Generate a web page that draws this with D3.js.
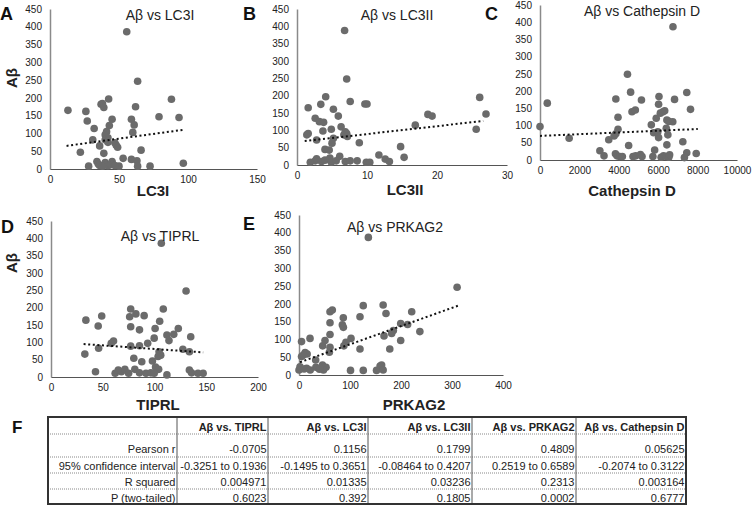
<!DOCTYPE html>
<html>
<head>
<meta charset="utf-8">
<script src="https://cdn.jsdelivr.net/npm/d3@7"></script>
<style>
  body { margin: 0; background: #fff; }
  svg { font-family: Arial, "Liberation Sans", sans-serif; }
</style>
</head>
<body>
<svg id="chart" width="753" height="506"></svg>
<script>
// Data: [x, Aβ]
const lc3i = [[63.5,247],[13,165],[26,162],[37,182],[38,184],[39,173],[42.5,197],[27,135],[32,114],[45,140],[43,122],[41,105],[40,96],[42,88],[40,82],[42,75],[31,82],[36,65],[22,47],[48,67],[49,61],[47,74],[39,44],[59,140],[61,124],[60,103],[62,175],[66,53],[79,147],[88,196],[93.5,145],[96.6,16],[55.6,386],[28,8],[34,21],[35,14],[36,10],[40,18],[41,12],[42,9],[45,21],[50,8],[53,30],[59,27],[63,23],[63.5,8],[72.5,8],[38,8],[44,12],[47,10]];
const lc3ii = [[6.8,388],[7.1,248],[4.1,197],[1.6,165],[3.4,175],[7.6,183],[9.7,176],[10,176],[5.2,161],[2.6,135],[3.2,125],[3.8,123],[5.9,141],[6.3,110],[3.7,98],[4.9,103],[6.9,96],[7.1,91],[6.7,87],[7.2,82],[1.4,87],[1.6,91],[2.8,72],[5.2,77],[5,63],[4,45],[4.6,43],[8.9,64],[16.9,115],[18.7,146],[19.3,141],[26.1,195],[27,147],[25.6,103],[14.8,53],[15.3,22],[11.7,29],[12.6,17],[13.2,10],[1.9,8],[2.6,12],[2.8,18],[3.5,10],[4,14],[4.7,20],[4.9,8],[5.6,12],[6.1,25],[6.9,10],[7.6,12],[8.6,12],[9.9,8],[10.4,8]];
const cathD = [[6750,387],[0,97],[370,165],[1480,63],[4440,249],[4600,197],[3850,177],[4670,140],[4840,145],[5150,174],[3960,124],[3960,89],[3850,76],[3760,70],[3490,59],[4500,42],[3040,27],[3250,12],[3830,18],[3910,12],[4050,10],[4180,10],[4720,10],[4860,12],[5100,16],[5180,10],[6040,184],[6020,162],[6110,136],[6240,140],[6330,143],[5900,121],[5650,102],[5770,79],[6020,65],[6440,116],[6540,112],[6410,92],[6740,111],[6830,176],[6490,73],[6440,44],[7250,53],[7450,196],[7640,147],[7930,19],[7450,21],[7330,7],[5820,29],[5730,10],[6150,8],[6270,12],[6410,10],[6540,8],[6580,15],[5980,82]];
const tiprl = [[106.6,386],[130.5,248],[108.5,196],[77,196],[76,174],[82,182],[90,177],[33.7,164],[49,176],[45.6,147],[77,145],[85.5,136],[105,161],[100.6,140],[123,140],[112,121],[118.6,123],[99.7,112],[114,105],[135,116],[93.4,97],[60.4,104],[58.2,97],[77,89],[85.5,90],[46,83],[32.7,66],[104.4,73],[106,63],[103.5,59],[127.4,80],[133.7,73],[80,54],[87.7,44],[98,46],[101,29],[104,22],[43,15],[81,22],[85.5,12],[91.8,11],[96.5,12],[99.7,11],[62,11],[65,20],[68,15],[71.4,22],[75,11],[112,6],[133.7,20],[135.8,12],[142,11],[147,11]];
const prkag2 = [[136,387],[310,247],[126,195],[165,197],[170.6,173],[221,178],[60.8,178],[65.3,183],[119.6,164],[86.9,161],[60.8,147],[85,141],[87,134],[60.8,114],[102,103],[92,92],[88,82],[46.4,82],[51,97],[166.7,110],[185,125],[181.7,117],[199.4,145],[213,142],[237,122],[199.4,97],[178,73],[119.6,73],[59.5,64],[5,94],[21.6,103],[5,52],[12,63],[16,59],[8.5,56],[32.7,42],[2,23],[15,19],[33,22],[40,16],[46,28],[53,22],[48,14],[159,25],[101,13],[126,13],[152,13],[162,28],[165,14],[0,14],[10,17],[22,14],[41,19],[60.8,78]];

// Linear trendline end points (as drawn)
const trendA = [[12,65],[96,110]];
const trendB = [[1.1,69],[26.6,127]];
const trendC = [[0,70],[8010,90]];
const trendD = [[31.5,95],[147,71]];
const trendE = [[2,36],[316,197]];

// Tick values
const yTicks = d3.range(0, 451, 50);
const xTicksA = [0, 50, 100, 150];
const xTicksB = [0, 10, 20, 30];
const xTicksC = [0, 2000, 4000, 6000, 8000, 10000];
const xTicksD = [0, 50, 100, 150, 200];
const xTicksE = [0, 100, 200, 300, 400];

// Table F
const tableHeader = ["", "Aβ vs. TIPRL", "Aβ vs. LC3I", "Aβ vs. LC3II", "Aβ vs. PRKAG2", "Aβ vs. Cathepsin D"];
const tableRows = [
  ["Pearson r", "-0.0705", "0.1156", "0.1799", "0.4809", "0.05625"],
  ["95% confidence interval", "-0.3251 to 0.1936", "-0.1495 to 0.3651", "-0.08464 to 0.4207", "0.2519 to 0.6589", "-0.2074 to 0.3122"],
  ["R squared", "0.004971", "0.01335", "0.03236", "0.2313", "0.003164"],
  ["P (two-tailed)", "0.6023", "0.392", "0.1805", "0.0002", "0.6777"]
];

const svg = d3.select("#chart");

const panels = [
  { letter: "A", title: "Aβ vs LC3I", xlab: "LC3I", data: lc3i, trend: trendA, xTicks: xTicksA,
    x0: 50, x1: 257, y0: 169, y1: 9, tx: 160, ty: 20, lx: 0, ly: 20, xlx: 153, xly: 196, ylab: 78 },
  { letter: "B", title: "Aβ vs LC3II", xlab: "LC3II", data: lc3ii, trend: trendB, xTicks: xTicksB,
    x0: 297, x1: 507, y0: 165, y1: 9, tx: 397, ty: 20, lx: 243, ly: 20, xlx: 405, xly: 195 },
  { letter: "C", title: "Aβ vs Cathepsin D", xlab: "Cathepsin D", data: cathD, trend: trendC, xTicks: xTicksC,
    x0: 540, x1: 737, y0: 160, y1: 5, tx: 642, ty: 16, lx: 485, ly: 20, xlx: 632, xly: 196 },
  { letter: "D", title: "Aβ vs TIPRL", xlab: "TIPRL", data: tiprl, trend: trendD, xTicks: xTicksD,
    x0: 51, x1: 258, y0: 377, y1: 221, tx: 160, ty: 241, lx: 1, ly: 233, xlx: 158, xly: 410, ylab: 263 },
  { letter: "E", title: "Aβ vs PRKAG2", xlab: "PRKAG2", data: prkag2, trend: trendE, xTicks: xTicksE,
    x0: 299, x1: 503, y0: 375, y1: 215, tx: 395, ty: 232, lx: 243, ly: 230, xlx: 414, xly: 410 }
];

panels.forEach(p => {
  const x = d3.scaleLinear().domain(d3.extent(p.xTicks)).range([p.x0, p.x1]);
  const y = d3.scaleLinear().domain([0, 450]).range([p.y0, p.y1]);
  const g = svg.append("g");

  const ya = g.append("g")
    .attr("transform", `translate(${p.x0},0)`)
    .call(d3.axisLeft(y).tickValues(yTicks).tickSize(0).tickPadding(8));
  ya.select(".domain").attr("stroke", "#8a8a8a").attr("stroke-width", 1.5);
  ya.selectAll("text").attr("font-size", 10).attr("fill", "#222");

  const xa = g.append("g")
    .attr("transform", `translate(0,${p.y0})`)
    .call(d3.axisBottom(x).tickValues(p.xTicks).tickFormat(d3.format("d")).tickSize(0).tickPadding(7));
  xa.select(".domain").attr("stroke", "#555").attr("stroke-width", 1.2);
  xa.selectAll("text").attr("font-size", 10).attr("fill", "#222");

  g.selectAll(".dot")
    .data(p.data)
    .enter().append("circle")
    .attr("cx", d => x(d[0]))
    .attr("cy", d => y(d[1]))
    .attr("r", 3.8)
    .attr("fill", "#6b6b6b");

  g.append("path")
    .datum(p.trend)
    .attr("fill", "none")
    .attr("stroke", "#111")
    .attr("stroke-width", 2)
    .attr("stroke-dasharray", "2,2.6")
    .attr("d", d3.line().x(d => x(d[0])).y(d => y(d[1])));

  g.append("text").attr("x", p.tx).attr("y", p.ty)
    .attr("text-anchor", "middle").attr("font-size", 14).attr("fill", "#222")
    .text(p.title);

  g.append("text").attr("x", p.lx).attr("y", p.ly)
    .attr("font-size", 18).attr("font-weight", "bold").attr("fill", "#111")
    .text(p.letter);

  g.append("text").attr("x", p.xlx).attr("y", p.xly)
    .attr("text-anchor", "middle").attr("font-size", 15).attr("font-weight", "bold").attr("fill", "#222")
    .text(p.xlab);

  if (p.ylab) {
    g.append("text")
      .attr("transform", `translate(17,${p.ylab}) rotate(-90)`)
      .attr("text-anchor", "middle").attr("font-size", 15).attr("font-weight", "bold").attr("fill", "#222")
      .text("Aβ");
  }
});

// Table F
svg.append("text").attr("x", 12).attr("y", 433)
  .attr("font-size", 17).attr("font-weight", "bold").attr("fill", "#111").text("F");

const colX = [48, 177, 268, 368, 472, 576, 686];
const rowY = [417, 434, 457, 473, 489, 504];
const baseY = [431, 453, 469.5, 486, 501.5];
const t = svg.append("g");

rowY.slice(1, -1).forEach(yy => {
  t.append("line").attr("x1", colX[0]).attr("x2", colX[6]).attr("y1", yy).attr("y2", yy)
    .attr("stroke", "#888").attr("stroke-width", 1).attr("stroke-dasharray", "1,1");
});
colX.slice(1, -1).forEach(xx => {
  t.append("line").attr("x1", xx).attr("x2", xx).attr("y1", rowY[0]).attr("y2", rowY[5])
    .attr("stroke", "#555").attr("stroke-width", 1);
});
t.append("rect").attr("x", colX[0]).attr("y", rowY[0])
  .attr("width", colX[6] - colX[0]).attr("height", rowY[5] - rowY[0])
  .attr("fill", "none").attr("stroke", "#333").attr("stroke-width", 2);

tableHeader.forEach((h, i) => {
  if (!h) return;
  t.append("text").attr("x", colX[i + 1] - 1.5).attr("y", baseY[0])
    .attr("text-anchor", "end").attr("font-size", 11).attr("font-weight", "bold").attr("fill", "#222")
    .text(h);
});
tableRows.forEach((row, r) => {
  row.forEach((c, i) => {
    t.append("text").attr("x", colX[i + 1] - 1.5).attr("y", baseY[r + 1])
      .attr("text-anchor", "end").attr("font-size", 11).attr("fill", "#222")
      .text(c);
  });
});
</script>
</body>
</html>
